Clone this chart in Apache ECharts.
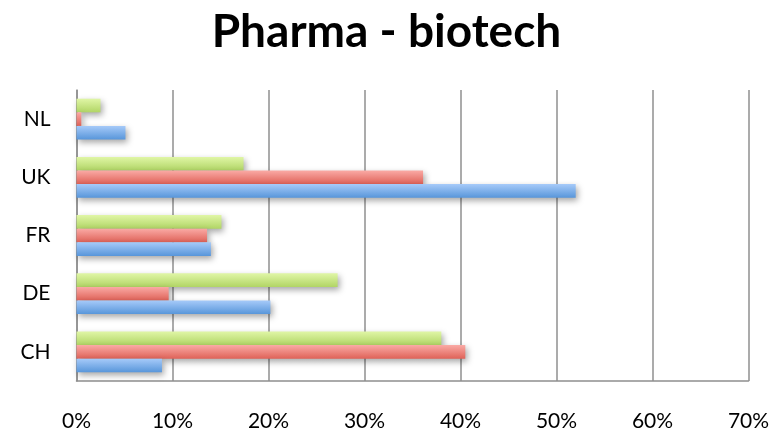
<!DOCTYPE html>
<html>
<head>
<meta charset="utf-8">
<script src="https://cdn.jsdelivr.net/npm/echarts@6/dist/echarts.min.js"></script>
<style>html,body{margin:0;padding:0;background:#fff;}#c{width:773px;height:438px;}</style>
</head>
<body>
<div id="c"></div>
<script>
const categories = ['CH', 'DE', 'FR', 'UK', 'NL'];
const seriesBlue = [8.9, 20.2, 14.0, 52.0, 5.1];
const seriesRed = [40.5, 9.6, 13.6, 36.1, 0.5];
const seriesGreen = [38.0, 27.2, 15.1, 17.4, 2.5];
const xTicks = [0, 10, 20, 30, 40, 50, 60, 70];

function grad(top, bottom) {
  return new echarts.graphic.LinearGradient(0, 0, 0, 1, [
    { offset: 0, color: top }, { offset: 1, color: bottom }
  ]);
}
function mk(name, data, top, bottom) {
  return {
    name: name, type: 'bar', data: data, barWidth: 13.6, barGap: '0%',
    itemStyle: { color: grad(top, bottom), shadowColor: 'rgba(0,0,0,0.35)', shadowBlur: 6, shadowOffsetX: 2, shadowOffsetY: 3 },
    silent: true
  };
}
const chart = echarts.init(document.getElementById('c'), null, { renderer: 'canvas' });
chart.setOption({
  animation: false,
  backgroundColor: '#ffffff',
  title: {
    text: 'Pharma - biotech', left: 'center', top: 4,
    textStyle: { fontFamily: 'Lato', fontWeight: 'bold', fontSize: 46, color: '#000' }
  },
  grid: { left: 76.5, right: 24.5, top: 90, bottom: 57 },
  xAxis: {
    type: 'value', min: xTicks[0], max: xTicks[xTicks.length - 1], interval: 10,
    axisLine: { show: true, lineStyle: { color: '#8f8f8f', width: 1.5 } },
    axisTick: { show: false },
    splitLine: { show: true, lineStyle: { color: '#8f8f8f', width: 1.5 } },
    axisLabel: { formatter: v => v + '%', margin: 30, fontFamily: 'Lato', fontSize: 21, color: '#000' }
  },
  yAxis: {
    type: 'category', data: categories,
    axisLine: { show: true, lineStyle: { color: '#8f8f8f', width: 1.5 } },
    axisTick: { show: false },
    axisLabel: { margin: 26, fontFamily: 'Lato', fontSize: 21, color: '#000' }
  },
  series: [
    mk('Green', seriesGreen, '#e0f6a6', '#b1d565'),
    mk('Red', seriesRed, '#faaaa5', '#df6258'),
    mk('Blue', seriesBlue, '#a6caf9', '#5896da')
  ]
});
</script>
</body>
</html>
